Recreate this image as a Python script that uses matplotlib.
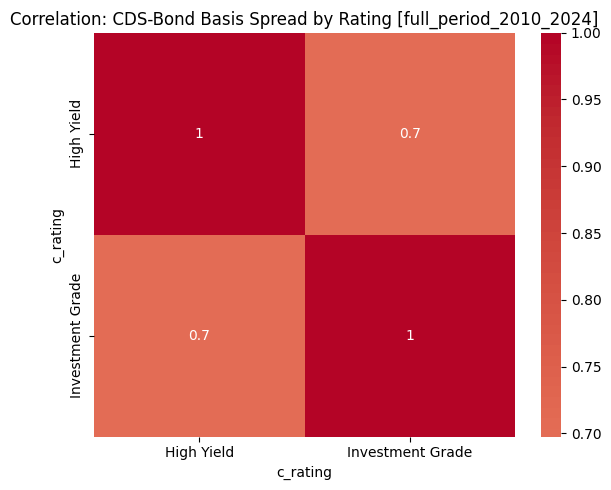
import matplotlib
matplotlib.use("Agg")
import matplotlib.pyplot as plt
import seaborn as sns
import pandas as pd

labels = ["High Yield", "Investment Grade"]
corr_values = [[1.0, 0.6975],
               [0.6975, 1.0]]

df = pd.DataFrame(corr_values, index=labels, columns=labels)
df.index.name = "c_rating"
df.columns.name = "c_rating"

fig = plt.figure(figsize=(6.11, 4.9), dpi=100)
ax = fig.add_axes([94/611, 1 - 436.7/490, 421/611, 404/490])
cax = fig.add_axes([541/611, 1 - 436.7/490, 20/611, 404/490])
sns.heatmap(df, annot=True, cmap="coolwarm", center=0, ax=ax, cbar_ax=cax)
ax.set_title("Correlation: CDS-Bond Basis Spread by Rating [full_period_2010_2024]")
fig.savefig("out.png", dpi=100)
